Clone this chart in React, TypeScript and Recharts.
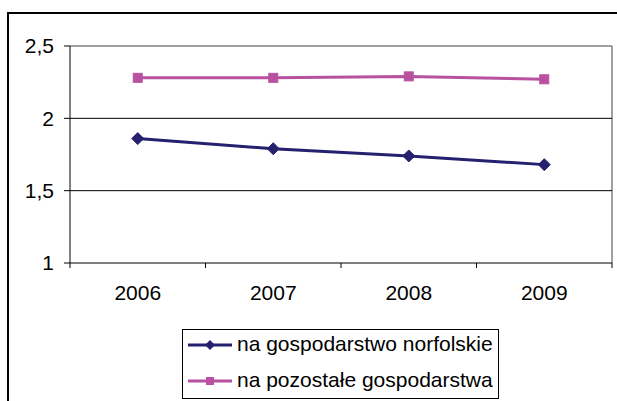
import React from 'react';
import { LineChart, Line, XAxis, YAxis, ReferenceLine, Legend } from 'recharts';

const years = ['2006', '2007', '2008', '2009'];
const norfolkValues = [1.86, 1.79, 1.74, 1.68];
const otherValues = [2.28, 2.28, 2.29, 2.27];
const yTicks = [1, 1.5, 2, 2.5];
const seriesNames = ['na gospodarstwo norfolskie', 'na pozostałe gospodarstwa'];

const BLUE = '#25216F';
const PINK = '#B8519F';
const FONT = '"Liberation Sans", Arial, sans-serif';

const data = years.map((year, i) => ({
  x: i + 0.5,
  year,
  norfolk: norfolkValues[i],
  other: otherValues[i],
}));

const xTicks: number[] = [];
for (let i = 0; i <= years.length; i++) {
  xTicks.push(i);
  if (i < years.length) xTicks.push(i + 0.5);
}

const TICK_SIZE = 5;
const TICK_MARGIN = 17;

const XTick = (props: any) => {
  const { x, y, payload } = props;
  const v = payload.value as number;
  if (Number.isInteger(v)) {
    const axisY = y - TICK_SIZE - TICK_MARGIN;
    return <line x1={x} x2={x} y1={axisY} y2={axisY + TICK_SIZE} stroke="#000" strokeWidth={1} />;
  }
  const idx = Math.floor(v);
  return (
    <text x={x} y={y} dy="0.71em" textAnchor="middle" fill="#000" fontSize={21} fontFamily={FONT}>
      {years[idx]}
    </text>
  );
};

const Diamond = (props: any) => {
  const { cx, cy } = props;
  if (cx == null || cy == null) return null;
  const r = 6;
  return <polygon points={`${cx},${cy - r} ${cx + r},${cy} ${cx},${cy + r} ${cx - r},${cy}`} fill={BLUE} stroke={BLUE} />;
};

const Square = (props: any) => {
  const { cx, cy } = props;
  if (cx == null || cy == null) return null;
  const s = 9;
  return <rect x={cx - s / 2} y={cy - s / 2} width={s} height={s} fill={PINK} stroke={PINK} />;
};

const LegendContent = () => {
  const rows = [
    { name: seriesNames[0], color: BLUE, shape: 'diamond' },
    { name: seriesNames[1], color: PINK, shape: 'square' },
  ];
  return (
    <div
      style={{
        border: '1px solid #000',
        width: 315,
        height: 68,
        background: '#fff',
        fontFamily: FONT,
        fontSize: 21,
        color: '#000',
        boxSizing: 'content-box',
      }}
    >
      {rows.map((r, i) => (
        <div
          key={i}
          style={{
            position: 'absolute',
            left: 1,
            top: i === 0 ? 0 : 36,
            height: 32,
            display: 'flex',
            alignItems: 'center',
            whiteSpace: 'nowrap',
          }}
        >
          <svg width={50} height={14} style={{ marginLeft: 4, marginRight: 4 }}>
            <line x1={1} x2={45} y1={7} y2={7} stroke={r.color} strokeWidth={3} />
            {r.shape === 'diamond' ? (
              <polygon points="23,2 28,7 23,12 18,7" fill={r.color} />
            ) : (
              <rect x={19} y={3} width={8} height={8} fill={r.color} />
            )}
          </svg>
          <span style={{ marginLeft: -4, position: 'relative', top: -1 }}>{r.name}</span>
        </div>
      ))}
    </div>
  );
};

export default function App() {
  return (
    <div style={{ position: 'absolute', left: 0, top: 0, width: 617, height: 401, overflow: 'hidden', background: '#fff' }}>
      <div
        style={{
          position: 'absolute',
          left: 7,
          top: 12,
          width: 700,
          height: 500,
          border: '2px solid #000',
          boxSizing: 'border-box',
        }}
      />
      <div style={{ position: 'absolute', left: 0, top: 0 }}>
        <LineChart width={617} height={401} data={data} margin={{ top: 46, right: 5, bottom: 0, left: 0 }}>
          <XAxis
            dataKey="x"
            type="number"
            domain={[0, years.length]}
            ticks={xTicks}
            interval={0}
            tickLine={false}
            tickSize={TICK_SIZE}
            tickMargin={TICK_MARGIN}
            tick={<XTick />}
            axisLine={{ stroke: '#000', strokeWidth: 1 }}
            height={138}
            allowDecimals
          />
          <YAxis
            type="number"
            domain={[1, 2.5]}
            ticks={yTicks}
            interval={0}
            width={70}
            tickSize={6}
            tickMargin={10}
            tickLine={{ stroke: '#000' }}
            axisLine={{ stroke: '#000', strokeWidth: 1 }}
            tick={{ fill: '#000', fontSize: 21, fontFamily: FONT }}
            tickFormatter={(v: number) => String(v).replace('.', ',')}
          />
          <ReferenceLine y={2.5} stroke="#808080" strokeWidth={1.5} ifOverflow="extendDomain" />
          <ReferenceLine x={years.length} stroke="#808080" strokeWidth={1.5} />
          <ReferenceLine y={2} stroke="#000" strokeWidth={1} />
          <ReferenceLine y={1.5} stroke="#000" strokeWidth={1} />
          <Line
            type="linear"
            dataKey="norfolk"
            name={seriesNames[0]}
            stroke={BLUE}
            strokeWidth={3}
            dot={<Diamond />}
            isAnimationActive={false}
          />
          <Line
            type="linear"
            dataKey="other"
            name={seriesNames[1]}
            stroke={PINK}
            strokeWidth={3}
            dot={<Square />}
            isAnimationActive={false}
          />
          <Legend
            layout="vertical"
            align="center"
            verticalAlign="middle"
            content={<LegendContent />}
            wrapperStyle={{ left: 182, top: 329, width: 317, height: 70 }}
          />
        </LineChart>
      </div>
    </div>
  );
}
